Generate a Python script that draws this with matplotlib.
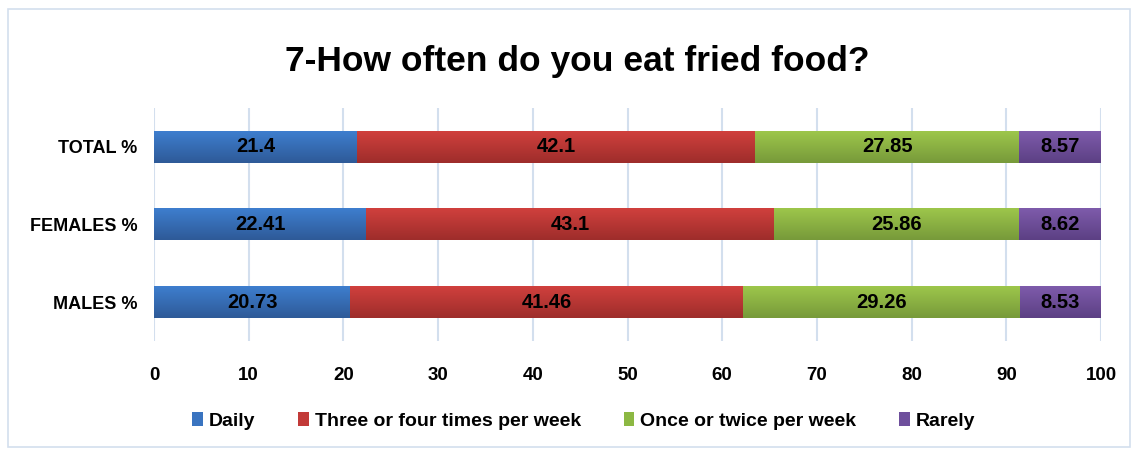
import matplotlib
matplotlib.use("Agg")
import matplotlib.pyplot as plt
import numpy as np
from matplotlib.patches import Rectangle
from matplotlib.colors import LinearSegmentedColormap

plt.rcParams['font.family'] = ['Liberation Sans', 'DejaVu Sans']

# 数据
groups = ['MALES %', 'FEMALES %', 'TOTAL %']
series = ['Daily', 'Three or four times per week', 'Once or twice per week', 'Rarely']
daily = [20.73, 22.41, 21.4]
three_four = [41.46, 43.1, 42.1]
once_twice = [29.26, 25.86, 27.85]
rarely = [8.53, 8.62, 8.57]
xticks = [0, 10, 20, 30, 40, 50, 60, 70, 80, 90, 100]

# 渐变色 (上浅下深)
grads = [('#3E7ECE', '#2E5A98'),
         ('#D0403D', '#9E2D2B'),
         ('#9DC64B', '#779A3A'),
         ('#7E5BAB', '#5C4084')]
mids = ['#3A74C0', '#C23A38', '#8CB843', '#6E4F9C']
values = [daily, three_four, once_twice, rarely]

fig = plt.figure(figsize=(11.4, 4.51), dpi=100)
fig.patches.append(Rectangle((8 / 1140, 4 / 451), 1122 / 1140, 438 / 451,
                             transform=fig.transFigure, fill=False,
                             edgecolor='#D3DFEE', linewidth=1.2))
ax = fig.add_axes([0.1351, 0.2439, 0.8307, 0.5166])

y = np.arange(len(groups))
h = 0.41
left = np.zeros(len(groups))
grad = np.linspace(0, 1, 50).reshape(-1, 1)
for vals, (c1, c2), mid, name in zip(values, grads, mids, series):
    cmap = LinearSegmentedColormap.from_list(name, [c1, c2])
    bars = ax.barh(y, vals, left=left, height=h, color=mid, label=name, zorder=3)
    for b, v in zip(bars, vals):
        x0, y0 = b.get_x(), b.get_y()
        ax.imshow(grad, extent=[x0, x0 + b.get_width(), y0, y0 + h], origin='upper',
                  aspect='auto', cmap=cmap, zorder=3.5, interpolation='bilinear')
        ax.text(x0 + b.get_width() / 2, y0 + h / 2,
                f'{v:g}', ha='center', va='center', fontsize=14.5,
                fontweight='bold', color='black', zorder=4)
    left += np.array(vals)

ax.set_xlim(0, 100)
ax.set_ylim(-0.5, 2.5)
ax.set_xticks(xticks)
ax.set_xticklabels([str(t) for t in xticks], fontsize=13.5, fontweight='bold')
ax.set_yticks(y)
ax.set_yticklabels(groups, fontsize=13, fontweight='bold')
ax.tick_params(axis='x', length=0, pad=19)
ax.tick_params(axis='y', length=0, pad=12)
ax.xaxis.grid(True, color='#D3DFEE', linewidth=1.5, zorder=0)
for s in ax.spines.values():
    s.set_visible(False)

fig.text(0.506, 0.864, '7-How often do you eat fried food?', ha='center', va='center',
         fontsize=25.5, fontweight='bold')

leg = fig.legend(loc='center', bbox_to_anchor=(0.512, 0.067), ncol=4, frameon=False,
                 prop={'size': 14, 'weight': 'bold'}, handlelength=0.55,
                 handleheight=0.75, handletextpad=0.3, columnspacing=2.2)

fig.savefig('out.png', dpi=100)
